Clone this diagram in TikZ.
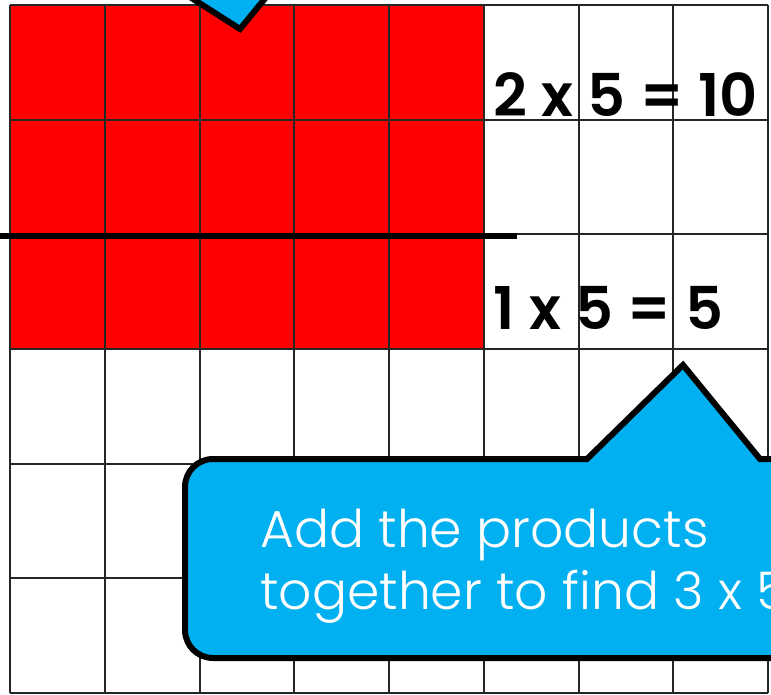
\documentclass[tikz,border=0pt]{standalone}
\usepackage{fontspec}
\newfontfamily\callfont{Poppins}[UprightFont={* Light}]
\newfontfamily\labfont{Poppins}[UprightFont={* SemiBold}]
\newcommand\labsetup{\labfont\fontsize{59}{62}\selectfont\spaceskip=1.03\fontdimen2\font\relax}
\definecolor{callblue}{HTML}{00B0F0}
\definecolor{sqred}{HTML}{FF0000}
\tikzset{
  gridline/.style={draw=black!85,line width=2pt},
  callout/.style={fill=callblue,draw=black,line width=6pt,line join=miter,miter limit=10},
  calltext/.style={text=white,inner sep=0pt,anchor=base west,font=\callfont\fontsize{52}{62}\selectfont},
  labtext/.style={text=black,inner sep=0pt,anchor=base west}
}
\begin{document}
\begin{tikzpicture}[x=1pt,y=-1pt]
\useasboundingbox (0,0) rectangle (771,695);
\clip (0,0) rectangle (771,695);
\fill[sqred] (10,5) rectangle (484,349);
\foreach \i in {0,...,8} {
  \draw[gridline] ({10+94.75*\i},5) -- ({10+94.75*\i},693);
}
\foreach \j in {0,...,6} {
  \draw[gridline] (10,{5+114.67*\j}) -- (768,{5+114.67*\j});
}
\coordinate (splitL) at (0,236);
\coordinate (splitR) at (517,236);
\draw[line width=6pt] (splitL) -- (splitR);
% top pointer
\path[callout] (179,-10) -- (240,29) -- (272,-10) -- cycle;
% bottom callout
\path[callout] (800,459) -- (800,658) -- (213,658)
  .. controls (197.5,658) and (185,645.5) .. (185,630) -- (185,487)
  .. controls (185,471.5) and (197.5,459) .. (213,459) -- (587,459)
  -- (683,365) -- (760,459) -- cycle;
\node[calltext] (t1) at (260,547) {Add the products};
\node[calltext] (t2) at (260,609) {together to find 3 x 5};
\node[labtext] (l1) at (493,117) {\labsetup 2 x 5 = 10};
\node[labtext] (l2) at (493,329) {\labsetup 1 x 5 = 5};
\end{tikzpicture}
\end{document}
